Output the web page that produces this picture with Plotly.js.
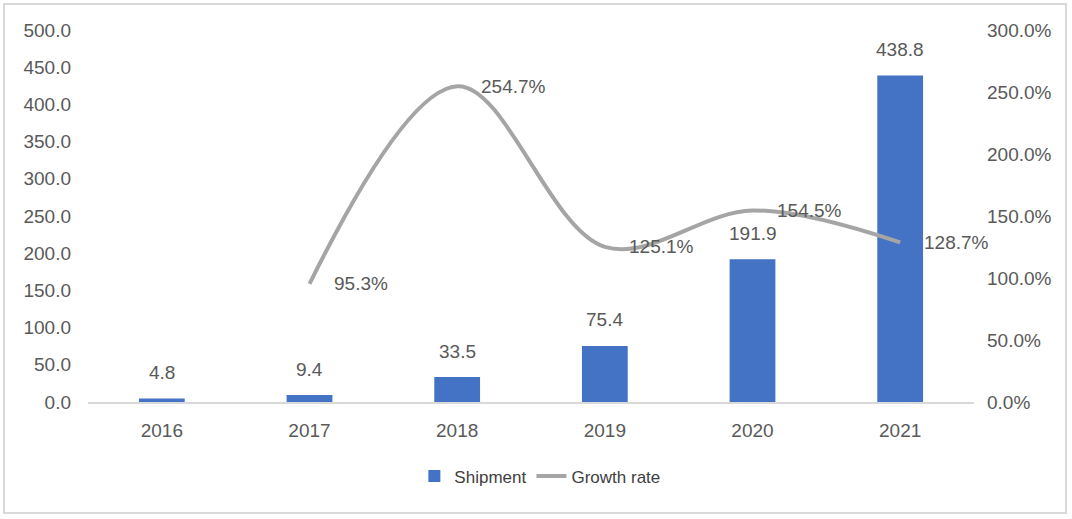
<!DOCTYPE html>
<html>
<head>
<meta charset="utf-8">
<script src="https://cdn.plot.ly/plotly-3.0.1.min.js"></script>
<style>
  body { margin: 0; background: #fff; }
  #chart { width: 1072px; height: 519px; }
  #frame { position: absolute; left: 3px; top: 3px; width: 1064px; height: 511px;
           border: 2px solid #d9d9d9; pointer-events: none; box-sizing: border-box; }
</style>
</head>
<body>
<div id="chart"></div>
<div id="frame"></div>
<script>
var years = ['2016', '2017', '2018', '2019', '2020', '2021'];
var shipment = [4.8, 9.4, 33.5, 75.4, 191.9, 438.8];
var growthYears = ['2017', '2018', '2019', '2020', '2021'];
var growthRate = [95.3, 254.7, 125.1, 154.5, 128.7];

var textColor = '#595959';
var font = {family: '"Liberation Sans", Arial, sans-serif', size: 19, color: textColor};

var barTrace = {
    x: years,
    y: shipment,
    name: 'Shipment',
    type: 'bar',
    marker: {color: '#4472c4'},
    hoverinfo: 'none'
};
var lineTrace = {
    x: growthYears,
    y: growthRate,
    name: 'Growth rate',
    type: 'scatter',
    mode: 'lines',
    yaxis: 'y2',
    line: {color: '#a5a5a5', width: 4, shape: 'spline', smoothing: 1},
    hoverinfo: 'none'
};

var annotations = [];
for (var i = 0; i < years.length; i++) {
    annotations.push({
        x: years.indexOf(years[i]), y: shipment[i], xref: 'x', yref: 'y',
        text: shipment[i].toFixed(1), showarrow: false,
        yanchor: 'middle', yshift: 26, font: font
    });
}
for (var j = 0; j < growthYears.length; j++) {
    annotations.push({
        x: years.indexOf(growthYears[j]), y: growthRate[j], xref: 'x', yref: 'y2',
        text: growthRate[j].toFixed(1) + '%', showarrow: false,
        xanchor: 'left', yanchor: 'middle', xshift: 22, font: font
    });
}

var layout = {
    width: 1072,
    height: 519,
    margin: {l: 88, r: 98, t: 30, b: 117},
    paper_bgcolor: '#fff',
    plot_bgcolor: '#fff',
    font: font,
    bargap: 0.69,
    showlegend: true,
    legend: {orientation: 'h', x: 0.51, xanchor: 'center', y: -0.2, yanchor: 'middle',
             font: {family: font.family, size: 17, color: '#404040'}},
    xaxis: {
        type: 'category',
        categoryorder: 'array', categoryarray: years,
        range: [-0.5, years.length - 0.5], autorange: false,
        showgrid: false,
        showline: true, linecolor: '#d9d9d9', linewidth: 1.5,
        ticks: '', ticklabelstandoff: 10, tickfont: font
    },
    yaxis: {
        range: [0, 500], dtick: 50, tickformat: '.1f',
        showgrid: false, zeroline: false, showline: false,
        ticks: '', ticklabelstandoff: 16, tickfont: font
    },
    yaxis2: {
        overlaying: 'y', side: 'right',
        range: [0, 300],
        tickvals: [0, 50, 100, 150, 200, 250, 300],
        ticktext: ['0.0%', '50.0%', '100.0%', '150.0%', '200.0%', '250.0%', '300.0%'],
        showgrid: false, zeroline: false, showline: false,
        ticks: '', ticklabelstandoff: 12, tickfont: font
    },
    annotations: annotations
};

Plotly.newPlot('chart', [barTrace, lineTrace], layout, {displayModeBar: false});
</script>
</body>
</html>
